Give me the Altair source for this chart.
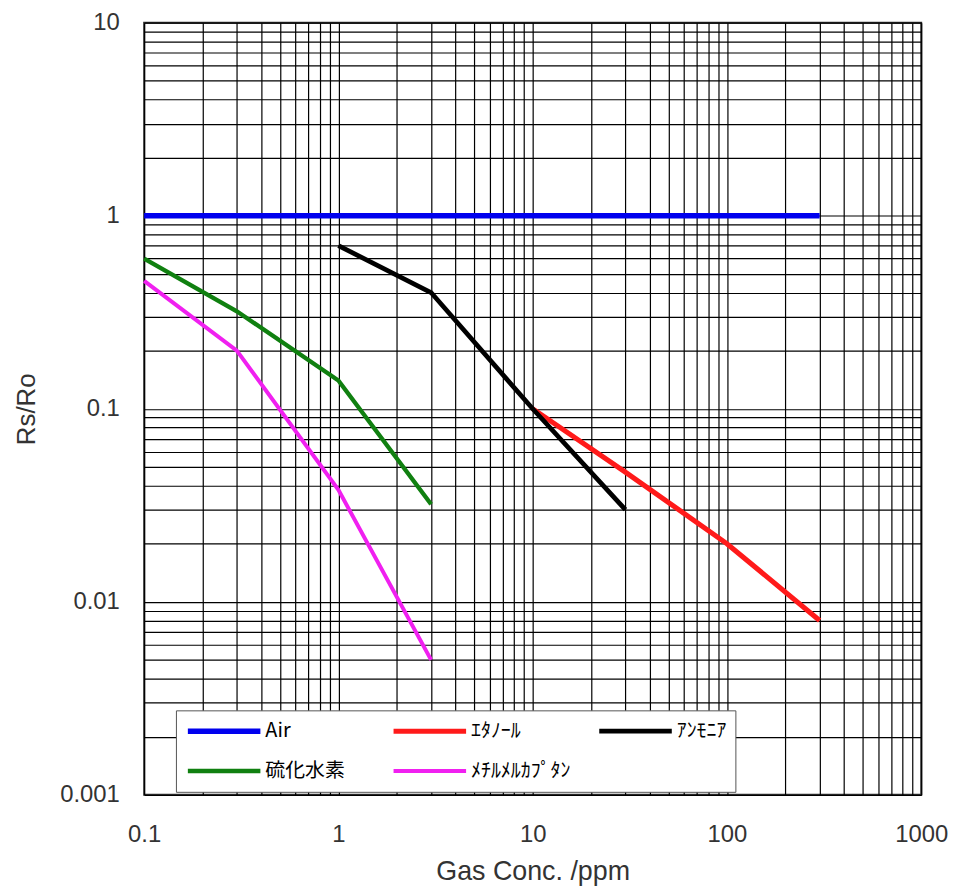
import altair as alt
import pandas as pd

# ---- data ----
series_names = ["Air", "ｴﾀﾉｰﾙ", "ｱﾝﾓﾆｱ", "硫化水素", "ﾒﾁﾙﾒﾙｶﾌﾟﾀﾝ"]
series_colors = ["#0000ee", "#ff1a1a", "#000000", "#108010", "#f020f0"]
series_widths = [5.5, 4, 4, 4, 4]

air_x = [0.1, 300]
air_y = [1.0, 1.0]
ethanol_x = [10, 30, 100, 300]
ethanol_y = [0.1, 0.047, 0.02, 0.008]
ammonia_x = [1, 3, 10, 30]
ammonia_y = [0.7, 0.4, 0.1, 0.03]
h2s_x = [0.1, 0.3, 1, 3]
h2s_y = [0.6, 0.32, 0.14, 0.032]
mm_x = [0.1, 0.3, 1, 3]
mm_y = [0.46, 0.2, 0.038, 0.005]

x_decades = [-1, 0, 1, 2]
y_decades = [-3, -2, -1, 0]
mantissas = [1, 2, 3, 4, 5, 6, 7, 8, 9]

x_grid = [round(m * 10 ** k, 6) for k in x_decades for m in mantissas] + [1000]
y_grid = [round(m * 10 ** k, 6) for k in y_decades for m in mantissas] + [10]

rows = []
for name, xs, ys in zip(series_names,
                        [air_x, ethanol_x, ammonia_x, h2s_x, mm_x],
                        [air_y, ethanol_y, ammonia_y, h2s_y, mm_y]):
    for xv, yv in zip(xs, ys):
        rows.append({"series": name, "x": xv, "y": yv})
df = pd.DataFrame(rows)

label_expr = ("abs(log(datum.value)/LN10 - round(log(datum.value)/LN10)) < 1e-6"
              " ? format(datum.value, '~g') : ''")

# pad the last column's short label with invisible no-break spaces so the
# legend box reaches the same width as in the reference
legend_label_expr = ("datum.label == '" + series_names[2] + "' ? datum.label + '"
                     + "\u00a0" * 12 + "' : datum.label")

chart = alt.Chart(df).mark_line().encode(
    x=alt.X("x:Q",
            scale=alt.Scale(type="log", domain=[0.1, 1000], nice=False),
            axis=alt.Axis(title="Gas Conc. /ppm", values=x_grid, labelExpr=label_expr,
                          ticks=False, domain=False, grid=True, gridColor="#000000",
                          gridWidth=1.2, gridOpacity=1, labelOverlap=False,
                          labelFlush=False, labelPadding=28, titlePadding=12,
                          titleFontSize=27)),
    y=alt.Y("y:Q",
            scale=alt.Scale(type="log", domain=[0.001, 10], nice=False),
            axis=alt.Axis(title="Rs/Ro", values=y_grid, labelExpr=label_expr,
                          ticks=False, domain=False, grid=True, gridColor="#000000",
                          gridWidth=1.2, gridOpacity=1, labelOverlap=False,
                          labelFlush=False, labelPadding=25, titlePadding=20,
                          titleFontSize=26)),
    color=alt.Color("series:N",
                    scale=alt.Scale(domain=series_names, range=series_colors),
                    sort=series_names,
                    legend=alt.Legend(title=None, orient="none", legendX=32, legendY=692,
                                      direction="horizontal",
                                      columns=3, symbolType="stroke", symbolSize=5329,
                                      symbolStrokeWidth=7, clipHeight=24, rowPadding=16,
                                      columnPadding=26, gridAlign="all", padding=9,
                                      fillColor="white", strokeColor="#555555",
                                      labelFont="Noto Sans CJK JP", labelFontSize=20,
                                      labelColor="#000000", labelLimit=300, labelOffset=2,
                                      labelExpr=legend_label_expr,
                                      symbolOpacity=1)),
    strokeWidth=alt.StrokeWidth("series:N",
                                scale=alt.Scale(domain=series_names, range=series_widths),
                                legend=None),
).properties(
    width=782,
    height=777,
    padding={"left": 5, "top": 0, "right": 5, "bottom": 5},
).configure_view(
    stroke="#333333", strokeWidth=2
).configure_axis(
    labelFont="Liberation Sans", titleFont="Liberation Sans",
    labelColor="#333333", titleColor="#333333",
    labelFontSize=24, titleFontWeight="normal"
)

chart.save("out.html", embed_options={"renderer": "svg", "actions": False})
